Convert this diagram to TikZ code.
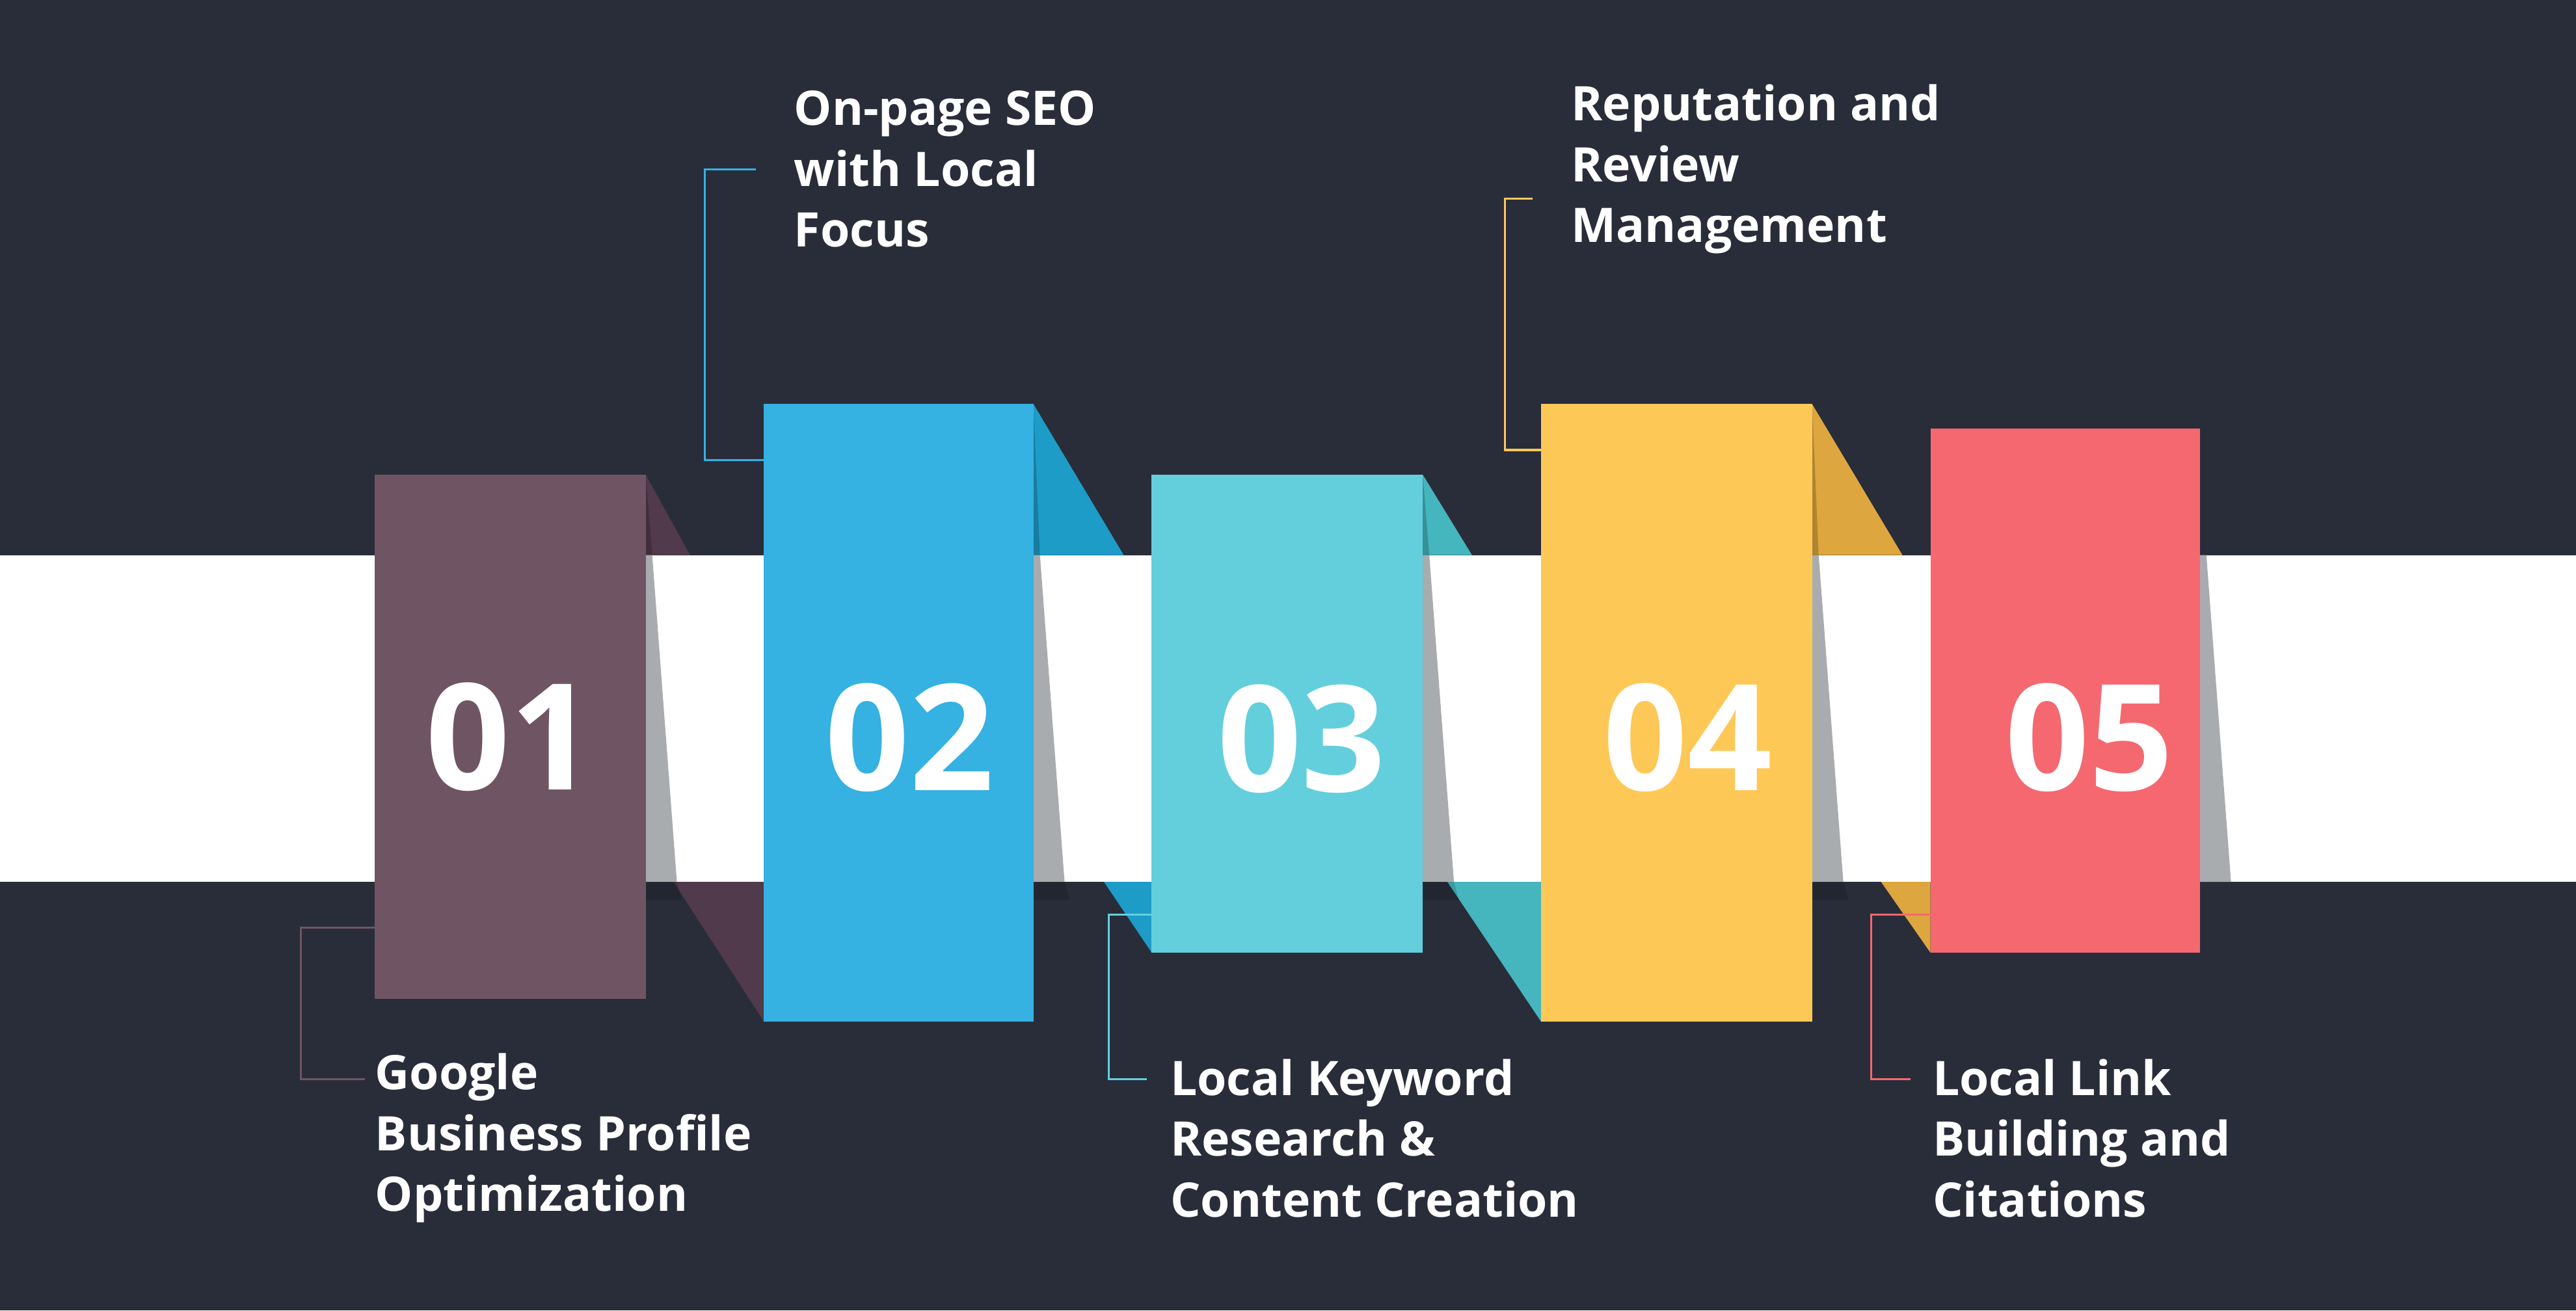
\documentclass[tikz,border=0pt]{standalone}
\usepackage{fontspec}
\setmainfont{Open Sans}
\begin{document}
\begin{tikzpicture}[x=0.5pt,y=-0.5pt,
  lbl/.style={text=white,font=\bfseries\fontsize{14.5}{18.5}\selectfont,align=left,anchor=west,inner sep=0},
  num/.style={text=white,font=\bfseries\fontsize{45}{45}\selectfont,inner sep=0},
  lead/.style={line width=0.6pt}]
\definecolor{bg}{HTML}{292D3A}
\definecolor{cA}{HTML}{6F5563}\definecolor{dA}{HTML}{513A4B}
\definecolor{cB}{HTML}{35B1E2}\definecolor{dB}{HTML}{1E9CC8}
\definecolor{cC}{HTML}{63CFDD}\definecolor{dC}{HTML}{45B5BE}
\definecolor{cD}{HTML}{FEC857}\definecolor{dD}{HTML}{DDA63E}
\definecolor{cE}{HTML}{F5686F}
\definecolor{sh}{HTML}{A9ACAF}
\fill[bg] (0,0) rectangle (1568,798);
\useasboundingbox (0,0) rectangle (1568,798);
\fill[white] (0,338) rectangle (1568,537);
% upper folds
\fill[dA] (393,289) -- (420,338) -- (393,338) -- cycle;
\fill[dB] (629,246) -- (684,338) -- (629,338) -- cycle;
\fill[dC] (866,289) -- (896,338) -- (866,338) -- cycle;
\fill[dD] (1103,246) -- (1158,338) -- (1103,338) -- cycle;
\foreach \t/\r in {289/393,246/629,289/866,246/1103}
  \fill[black,opacity=0.2] (\r,\t) -- (\r+4,338) -- (\r,338) -- cycle;
% lower folds
\fill[dA] (410,537) -- (465,537) -- (465,622) -- cycle;
\fill[dB] (672,537) -- (701,537) -- (701,580) -- cycle;
\fill[dC] (881,537) -- (938,537) -- (938,622) -- cycle;
\fill[dD] (1145,537) -- (1175,537) -- (1175,580) -- cycle;
% shadows
\foreach \r in {393,629,866,1103,1339}
  \fill[sh] (\r,338) -- (\r+4,338) -- (\r+19,537) -- (\r,537) -- cycle;
\foreach \r in {393,629,866,1103}
  \fill[black,opacity=0.15] (\r,537) -- (\r+19,537) -- (\r+22,548) -- (\r,548) -- cycle;
% boxes
\path[fill=cA] (228,289) rectangle (393,608) node[num,midway] (n1) {01};
\path[fill=cB] (465,246) rectangle (629,622) node[num,pos=0.54] (n2) {02};
\path[fill=cC] (701,289) rectangle (866,580) node[num,pos=0.553] (n3) {03};
\path[fill=cD] (938,246) rectangle (1103,622) node[num,pos=0.54] (n4) {04};
\path[fill=cE] (1175,261) rectangle (1339,580) node[num,pos=0.59] (n5) {05};
% labels
\node[lbl] (t1) at (228,693) {Google\\Business Profile\\Optimization};
\node[lbl] (t2) at (483,103) {On-page SEO\\with Local\\Focus};
\node[lbl] (t3) at (712,693) {Local Keyword\\Research \&\\Content Creation};
\node[lbl] (t4) at (956,103) {Reputation and\\Review\\Management};
\node[lbl] (t5) at (1176,693) {Local Link\\Building and\\Citations};
% leaders
\draw[lead,cA] (228,565) -- (183,565) -- (183,657) -- (222,657);
\draw[lead,cB] (465,280) -- (429,280) -- (429,103) -- (460,103);
\draw[lead,cC] (701,557) -- (675,557) -- (675,657) -- (698,657);
\draw[lead,cD] (938,274) -- (916,274) -- (916,121) -- (933,121);
\draw[lead,cE] (1175,557) -- (1139,557) -- (1139,657) -- (1163,657);
\end{tikzpicture}
\end{document}
